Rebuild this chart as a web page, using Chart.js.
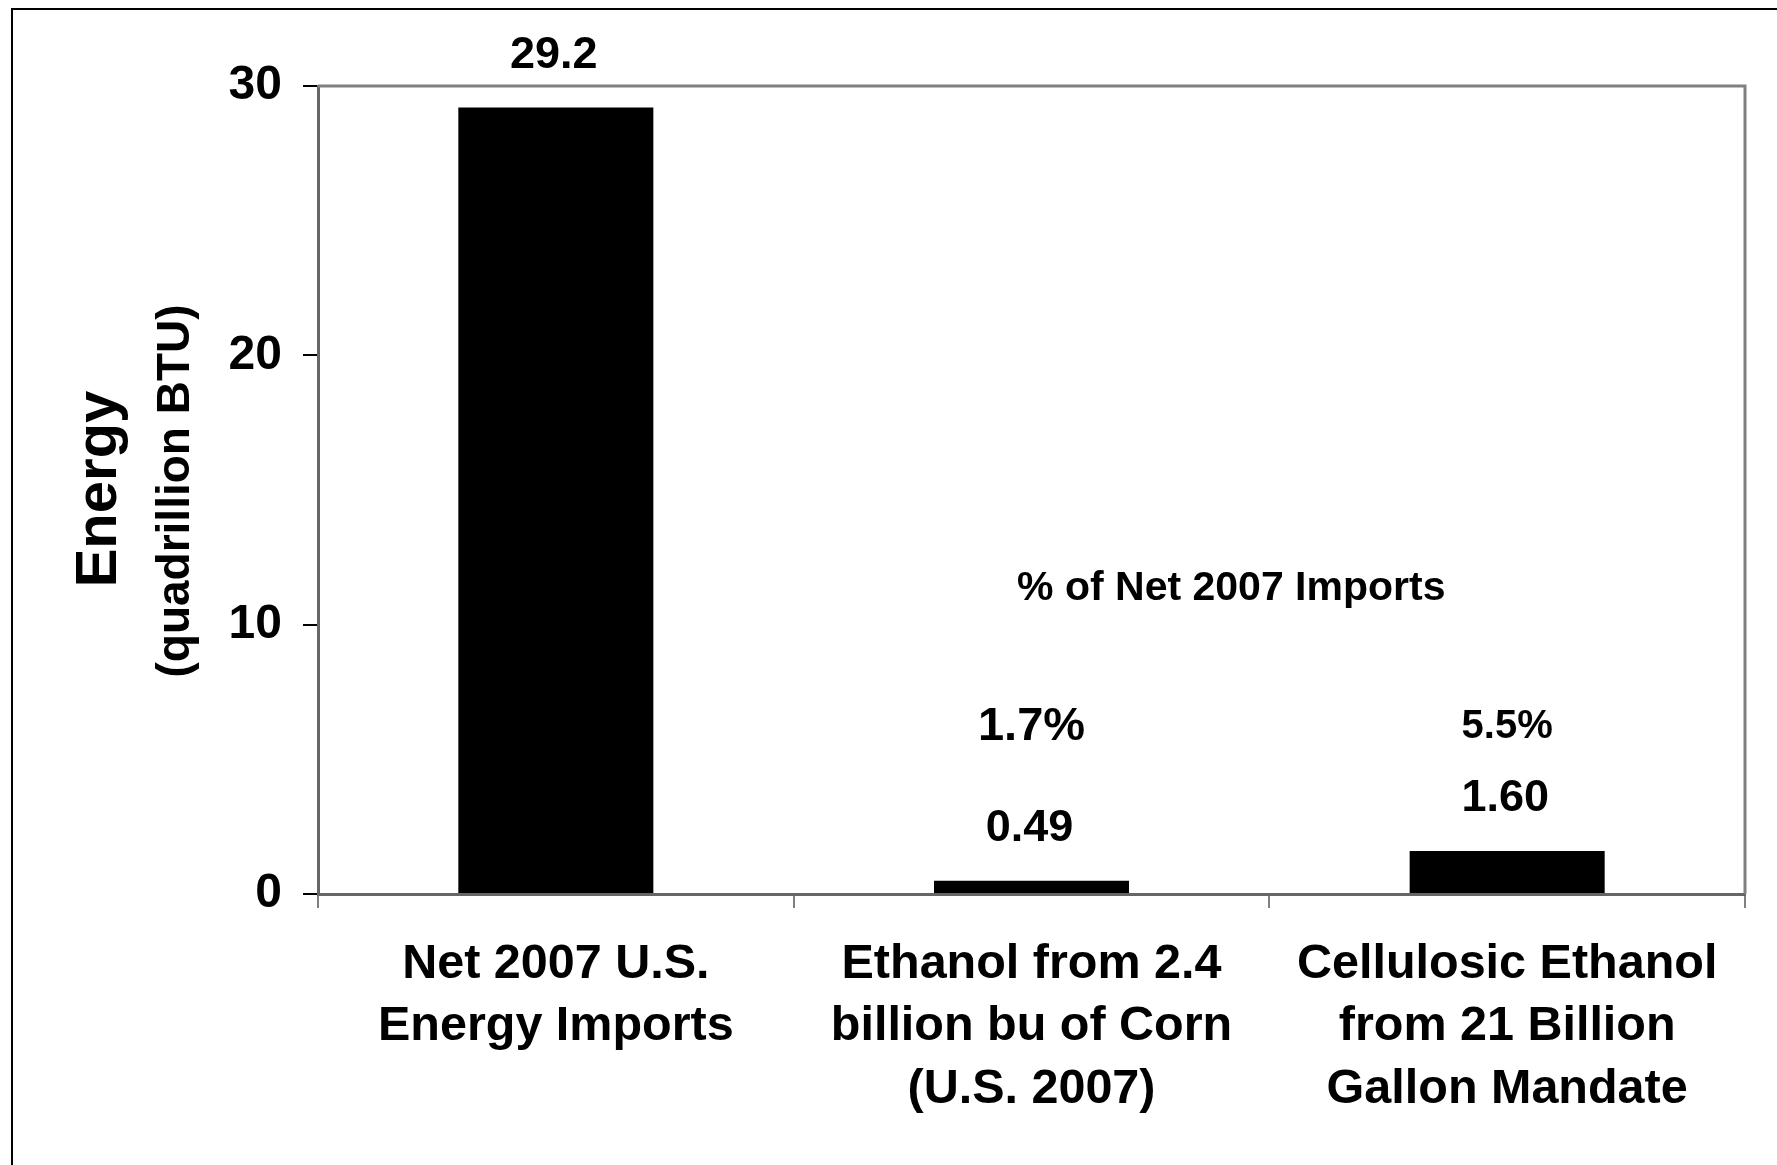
<!DOCTYPE html>
<html>
<head>
<meta charset="utf-8">
<script src="https://cdn.jsdelivr.net/npm/chart.js@4/dist/chart.umd.min.js"></script>
<style>
  html, body { margin: 0; padding: 0; background: #fff; }
  canvas { display: block; }
</style>
</head>
<body>
<canvas id="c" width="1777" height="1165"></canvas>
<script>
// ---- data ----
const categories = [
  ['Net 2007 U.S.', 'Energy Imports'],
  ['Ethanol from 2.4', 'billion bu of Corn', '(U.S. 2007)'],
  ['Cellulosic Ethanol', 'from 21 Billion', 'Gallon Mandate']
];
const energyValues = [29.2, 0.49, 1.60];
const valueLabels = ['29.2', '0.49', '1.60'];
const percentLabels = ['', '1.7%', '5.5%'];
const percentHeading = '% of Net 2007 Imports';
const yTicks = [0, 10, 20, 30];
const yTitle = 'Energy';
const ySubTitle = '(quadrillion BTU)';

const FONT = '"Liberation Sans", Arial, Helvetica, sans-serif';

const annotations = {
  id: 'annotations',
  beforeDraw(chart) {
    const ctx = chart.ctx;
    ctx.save();
    ctx.fillStyle = '#fff';
    ctx.fillRect(0, 0, chart.width, chart.height);
    // outer frame (left & top only visible)
    ctx.strokeStyle = '#000';
    ctx.lineWidth = 2;
    ctx.beginPath();
    ctx.moveTo(12, chart.height);
    ctx.lineTo(12, 9);
    ctx.lineTo(chart.width, 9);
    ctx.stroke();
    ctx.restore();
  },
  afterDraw(chart) {
    const ctx = chart.ctx;
    const xs = chart.scales.x, ys = chart.scales.y;
    const a = chart.chartArea;
    ctx.save();
    // plot frame top & right
    ctx.strokeStyle = '#808080';
    ctx.lineWidth = 3;
    ctx.beginPath();
    ctx.moveTo(a.left, a.top);
    ctx.lineTo(a.right, a.top);
    ctx.lineTo(a.right, a.bottom);
    ctx.stroke();

    ctx.fillStyle = '#000';
    ctx.textAlign = 'center';
    ctx.textBaseline = 'middle';
    const meta = chart.getDatasetMeta(0);
    meta.data.forEach((bar, i) => {
      ctx.font = 'bold 45px ' + FONT;
      ctx.fillText(valueLabels[i], bar.x - 2, bar.y - 52);
      if (percentLabels[i]) {
        ctx.font = (i === 1 ? 'bold 47px ' : 'bold 40px ') + FONT;
        ctx.fillText(percentLabels[i], bar.x, ys.getPixelForValue(6.2));
      }
    });
    ctx.font = 'bold 41px ' + FONT;
    ctx.fillText(percentHeading, xs.getPixelForValue(1.42), ys.getPixelForValue(11.35));

    // y-axis titles
    ctx.save();
    ctx.translate(100, 489);
    ctx.rotate(-Math.PI / 2);
    ctx.font = 'bold 58px ' + FONT;
    ctx.fillText(yTitle, 0, 0);
    ctx.restore();
    ctx.save();
    ctx.translate(176, 491);
    ctx.rotate(-Math.PI / 2);
    ctx.font = 'bold 46px ' + FONT;
    ctx.fillText(ySubTitle, 0, 0);
    ctx.restore();
    ctx.restore();
  }
};

new Chart(document.getElementById('c'), {
  type: 'bar',
  data: {
    labels: categories,
    datasets: [{
      data: energyValues,
      backgroundColor: '#000',
      borderWidth: 0,
      barPercentage: 0.41,
      categoryPercentage: 1.0
    }]
  },
  options: {
    responsive: false,
    animation: false,
    devicePixelRatio: 1,
    layout: { padding: { left: 0, top: 86, right: 32, bottom: 0 } },
    plugins: { legend: { display: false }, tooltip: { enabled: false }, title: { display: false } },
    scales: {
      x: {
        afterFit(scale) { scale.height = 1165 - 894; },
        grid: { display: true, drawOnChartArea: false, drawTicks: true, tickLength: 14, color: '#808080', lineWidth: 2, offset: true },
        border: { display: true, color: '#666', width: 3 },
        ticks: { color: '#000', padding: 26, font: { family: FONT, size: 48.5, weight: 'bold', lineHeight: 1.28 }, maxRotation: 0, autoSkip: false }
      },
      y: {
        min: 0, max: 30,
        afterFit(scale) { scale.width = 318; },
        afterBuildTicks(scale) { scale.ticks = yTicks.map(v => ({ value: v })); },
        grid: { display: true, drawOnChartArea: false, drawTicks: true, tickLength: 15, color: '#000', lineWidth: 2 },
        border: { display: true, color: '#666', width: 3 },
        ticks: { color: '#000', padding: 21, font: { family: FONT, size: 48, weight: 'bold' } }
      }
    }
  },
  plugins: [annotations]
});
</script>
</body>
</html>
